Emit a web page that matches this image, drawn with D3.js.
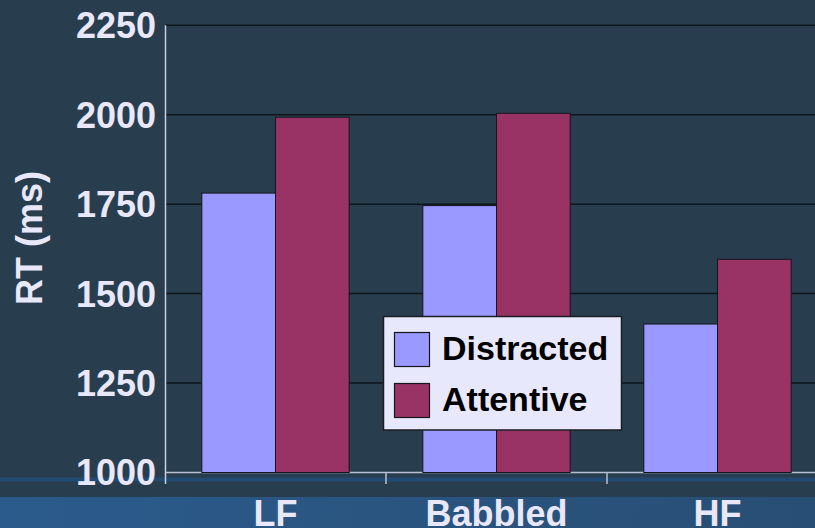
<!DOCTYPE html>
<html>
<head>
<meta charset="utf-8">
<script src="https://cdn.jsdelivr.net/npm/d3@7"></script>
<style>
  html, body { margin: 0; padding: 0; background: #283e4f; }
  svg { display: block; }
  text { font-family: "Liberation Sans", Arial, sans-serif; font-weight: bold; }
</style>
</head>
<body>
<svg id="chart" width="815" height="528"></svg>
<script>
const categories = ["LF", "Babbled", "HF"];
const seriesNames = ["Distracted", "Attentive"];
const distracted = [1781, 1746, 1415];
const attentive = [1993, 2004, 1596];
const yTicks = [1000, 1250, 1500, 1750, 2000, 2250];
const colors = ["#9999ff", "#993366"];

const svg = d3.select("#chart");
const W = 815, H = 528;

// background
svg.append("rect").attr("width", W).attr("height", H).attr("fill", "#283e4f");

// bottom band gradient
const defs = svg.append("defs");
const grad = defs.append("linearGradient").attr("id", "band").attr("x1", "0").attr("x2", "1").attr("y1", "0").attr("y2", "0");
grad.append("stop").attr("offset", "0").attr("stop-color", "#2b5b8c");
grad.append("stop").attr("offset", "1").attr("stop-color", "#284e74");
svg.append("rect").attr("x", 0).attr("y", 497).attr("width", W).attr("height", H - 497).attr("fill", "url(#band)");
// decorative blue line
svg.append("rect").attr("x", 0).attr("y", 477.5).attr("width", W).attr("height", 4).attr("fill", "#214b73");

const y = d3.scaleLinear().domain([1000, 2250]).range([472.5, 25.3]);
const x = d3.scaleBand().domain(categories).range([165, 828]).paddingInner(0).paddingOuter(0);
const xs = d3.scaleBand().domain(seriesNames).range([0, x.bandwidth()]).paddingInner(0).paddingOuter(0.5);

// gridlines
svg.append("g").selectAll("line").data(yTicks.filter(d => d > 1000)).join("line")
  .attr("x1", 165).attr("x2", W)
  .attr("y1", d => y(d)).attr("y2", d => y(d))
  .attr("stroke", "#0e1418").attr("stroke-width", 1.5);

// x axis line + ticks
const xAxis = d3.axisBottom(x).tickSize(0).tickFormat("");
svg.append("line").attr("x1", 165).attr("x2", W).attr("y1", y(1000)).attr("y2", y(1000))
  .attr("stroke", "#b8c0d0").attr("stroke-width", 1.5);
svg.append("g").selectAll("line").data(categories.slice(1).concat(["end"])).join("line")
  .attr("x1", (d, i) => 165 + x.step() * (i + 1)).attr("x2", (d, i) => 165 + x.step() * (i + 1))
  .attr("y1", y(1000)).attr("y2", 484)
  .attr("stroke", "#b8c0d0").attr("stroke-width", 1.5);

// y axis line
svg.append("line").attr("x1", 165.5).attr("x2", 165.5).attr("y1", y(2250)).attr("y2", 484)
  .attr("stroke", "#c8d0e0").attr("stroke-width", 1.5);

// bars
const data = categories.map((c, i) => ({ cat: c, vals: [distracted[i], attentive[i]] }));
const groups = svg.append("g").selectAll("g").data(data).join("g")
  .attr("transform", d => `translate(${x(d.cat)},0)`);
groups.selectAll("rect").data(d => d.vals.map((v, j) => ({ name: seriesNames[j], v, j }))).join("rect")
  .attr("x", d => xs(d.name))
  .attr("width", xs.bandwidth())
  .attr("y", d => y(d.v))
  .attr("height", d => y(1000) - y(d.v))
  .attr("fill", d => colors[d.j])
  .attr("stroke", "#15161c").attr("stroke-width", 1);

// y tick labels
svg.append("g").selectAll("text").data(yTicks).join("text")
  .attr("x", 156).attr("y", d => y(d)).attr("dy", "0.36em")
  .attr("text-anchor", "end").attr("font-size", 36).attr("fill", "#e8e8fa")
  .text(d => d);

// category labels
svg.append("g").selectAll("text").data(categories).join("text")
  .attr("x", d => x(d) + x.bandwidth() / 2).attr("y", 526)
  .attr("text-anchor", "middle").attr("font-size", 36).attr("fill", "#e8e8fa")
  .text(d => d);

// y title
svg.append("text").attr("transform", "translate(42,238) rotate(-90)")
  .attr("text-anchor", "middle").attr("font-size", 36).attr("fill", "#e8e8fa")
  .text("RT (ms)");

// legend
const lg = svg.append("g");
lg.append("rect").attr("x", 383.5).attr("y", 316.5).attr("width", 238).attr("height", 113.5)
  .attr("fill", "#e8e8fc").attr("stroke", "#1a1c22").attr("stroke-width", 1.5);
seriesNames.forEach((n, i) => {
  lg.append("rect").attr("x", 394.5).attr("y", 332.5 + i * 51).attr("width", 35).attr("height", 34)
    .attr("fill", colors[i]).attr("stroke", "#15161c").attr("stroke-width", 1.2);
  lg.append("text").attr("x", 442).attr("y", 360 + i * 51)
    .attr("font-size", 34).attr("fill", "#000").text(n);
});
</script>
</body>
</html>
